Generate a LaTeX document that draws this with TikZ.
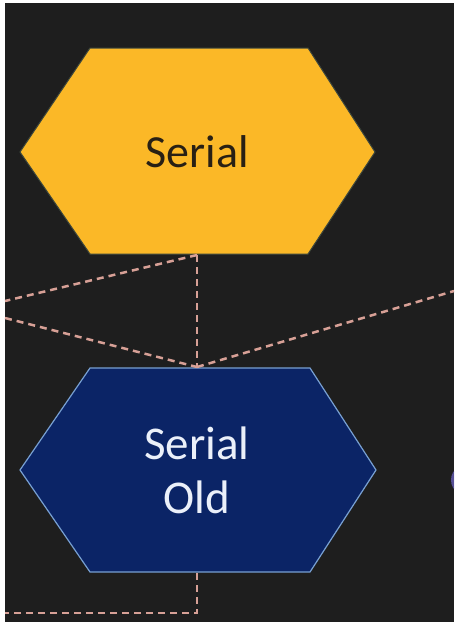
\documentclass[tikz,border=0pt]{standalone}
\usepackage{fontspec}
\setmainfont{Carlito}
\definecolor{boardbg}{RGB}{30,30,30}
\definecolor{hexyfill}{RGB}{251,184,39}
\definecolor{hexyedge}{RGB}{60,70,60}
\definecolor{hexbfill}{RGB}{11,36,102}
\definecolor{hexbedge}{RGB}{120,160,210}
\definecolor{dashcol}{RGB}{215,160,150}
\definecolor{ytext}{RGB}{40,32,20}
\definecolor{btext}{RGB}{235,240,250}
\definecolor{blobcol}{RGB}{110,100,200}
\begin{document}
\begin{tikzpicture}[x=1pt,y=-1pt,
  hexyellow/.style={fill=hexyfill,draw=hexyedge,line width=1pt},
  hexblue/.style={fill=hexbfill,draw=hexbedge,line width=1.2pt},
  dashline/.style={draw=dashcol,line width=2.5pt,dash pattern=on 7pt off 5pt},
  labelyellow/.style={text=ytext,font=\fontsize{46}{54}\selectfont,align=center,inner sep=0pt},
  labelblue/.style={text=btext,font=\fontsize{47}{54}\selectfont,align=center,inner sep=0pt}]
\useasboundingbox (0,0) rectangle (457,627);
\fill[white] (0,0) rectangle (457,627);
\fill[boardbg] (5,3) rectangle (454,622);
% faint purple blob at right edge, clipped to the board
\begin{scope}
\clip (5,3) rectangle (454,622);
\fill[blobcol,opacity=0.7] (458,480) ellipse (7 and 11);
\end{scope}
% hexagons
\path[hexyellow] (90,48) -- (308,48) -- (375,152) -- (308,254) -- (90,254) -- (20,152) -- cycle;
\path[hexblue] (90,368) -- (310,368) -- (376,470) -- (310,572) -- (90,572) -- (20,470) -- cycle;
\node[labelyellow] (serial) at (197,152) {Serial};
\node[labelblue] (serialold) at (197,470) {Serial\\Old};
% connector points
\coordinate (ytop) at (197,255);
\coordinate (btop) at (197,367);
\coordinate (bbot) at (197,573);
\coordinate (corner) at (197,613);
\coordinate (lefta) at (5,301);
\coordinate (leftb) at (5,318);
\coordinate (rightc) at (454,291);
\coordinate (leftd) at (5,613);
\draw[dashline] (ytop) -- (btop);
\draw[dashline] (ytop) -- (lefta);
\draw[dashline] (leftb) -- (btop);
\draw[dashline] (btop) -- (rightc);
\draw[dashline] (bbot) -- (corner) -- (leftd);
\end{tikzpicture}
\end{document}
